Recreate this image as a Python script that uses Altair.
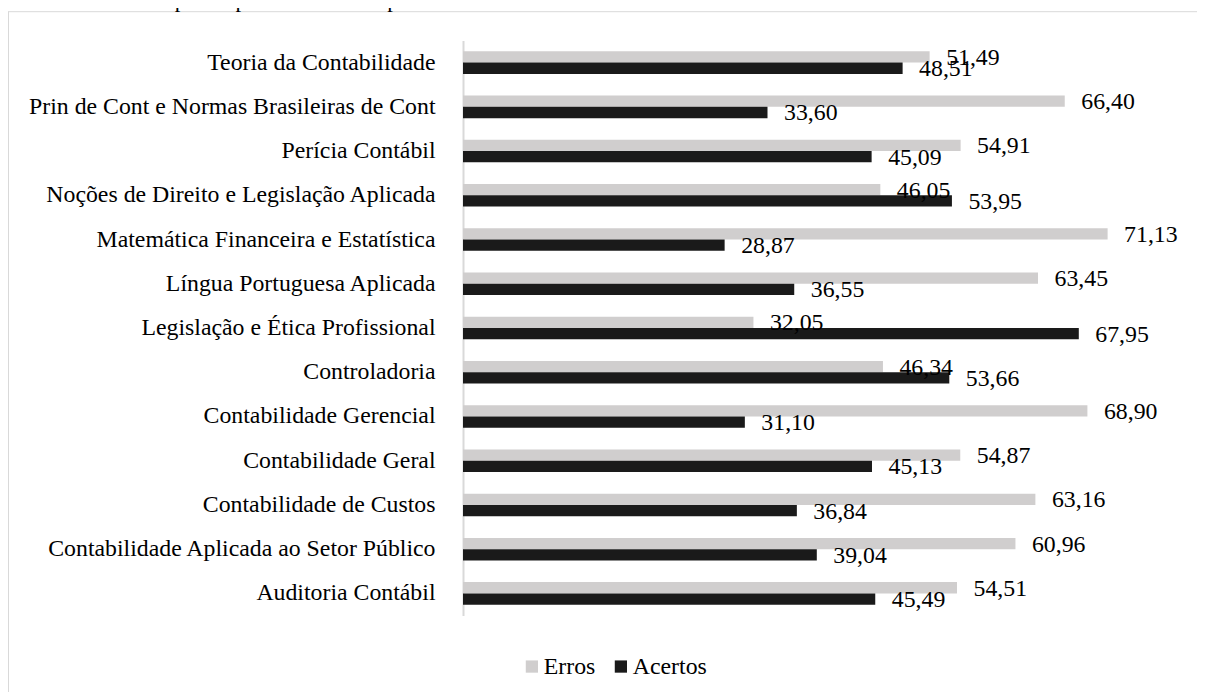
import altair as alt
import pandas as pd

categories = [
    "Teoria da Contabilidade",
    "Prin de Cont e Normas Brasileiras de Cont",
    "Perícia Contábil",
    "Noções de Direito e Legislação Aplicada",
    "Matemática Financeira e Estatística",
    "Língua Portuguesa Aplicada",
    "Legislação e Ética Profissional",
    "Controladoria",
    "Contabilidade Gerencial",
    "Contabilidade Geral",
    "Contabilidade de Custos",
    "Contabilidade Aplicada ao Setor Público",
    "Auditoria Contábil",
]
erros = [51.49, 66.40, 54.91, 46.05, 71.13, 63.45, 32.05, 46.34, 68.90, 54.87, 63.16, 60.96, 54.51]
acertos = [48.51, 33.60, 45.09, 53.95, 28.87, 36.55, 67.95, 53.66, 31.10, 45.13, 36.84, 39.04, 45.49]
series = ["Erros", "Acertos"]
colors = ["#d0cece", "#1a1a1a"]
title_text = "Gráfico 3 - Desempenho por conteúdo do período de 2018 a 2022."

rows = []
for c, e, a in zip(categories, erros, acertos):
    rows.append({"cat": c, "serie": "Erros", "value": e})
    rows.append({"cat": c, "serie": "Acertos", "value": a})
df = pd.DataFrame(rows)

FONT = "'Liberation Serif', 'Times New Roman', Times, 'DejaVu Serif', serif"
W, H = 725, 575
PL, PT, PR, PB = 455, 32.5, 9, 76.5

y_enc = alt.Y("cat:N", sort=categories,
              scale=alt.Scale(paddingInner=0.49, paddingOuter=0.245),
              axis=alt.Axis(title=None, ticks=False, labelPadding=28, labelLimit=0,
                            labelFont=FONT, labelFontSize=23.8, labelColor="#000000",
                            domainColor="#d9d9d9", domainWidth=2))
x_enc = alt.X("value:Q", scale=alt.Scale(domain=[0, 80], nice=False), axis=None)
yoff = alt.YOffset("serie:N", sort=series, scale=alt.Scale(domain=series, paddingInner=0, paddingOuter=0))

base = alt.Chart(df)

bars = base.mark_bar().encode(
    y=y_enc,
    x=x_enc,
    yOffset=yoff,
    color=alt.Color("serie:N", sort=series,
                    scale=alt.Scale(domain=series, range=colors),
                    legend=alt.Legend(title=None, orient="none", direction="horizontal",
                                      legendX=57, legendY=614, symbolType="square",
                                      symbolSize=150, symbolStrokeWidth=0,
                                      labelFont=FONT, labelFontSize=23.8, labelColor="#000000",
                                      labelOffset=0, columnPadding=13, padding=0)),
)

labels = base.transform_calculate(
    lbl="replace(format(datum.value, '.2f'), '.', ',')"
).mark_text(align="left", baseline="middle", dx=16.5, dy=1, font=FONT,
            fontSize=23.8, color="#000000").encode(
    y=alt.Y("cat:N", sort=categories),
    x="value:Q",
    yOffset=alt.YOffset("serie:N", sort=series),
    text="lbl:N",
)

one = pd.DataFrame({"k": [0]})
frame_top = alt.Chart(one).mark_rule(color="#d9d9d9", strokeWidth=1).encode(
    x=alt.value(-PL), x2=alt.value(W + PR), y=alt.value(-28.8))
frame_left = alt.Chart(one).mark_rule(color="#d9d9d9", strokeWidth=1).encode(
    x=alt.value(-PL + 0.5), y=alt.value(-28.8), y2=alt.value(H + PB))
title = alt.Chart(one).mark_text(align="left", baseline="alphabetic", font=FONT,
                                 fontSize=22.5, color="#000000").encode(
    x=alt.value(-PL), y=alt.value(-PT - 1.5), text=alt.value(title_text))

chart = alt.layer(frame_top, frame_left, title, bars, labels).properties(
    width=W, height=H,
    autosize=alt.AutoSizeParams(type="none"),
    padding={"left": PL, "top": PT, "right": PR, "bottom": PB},
).configure_view(stroke=None).resolve_scale(y="shared")

chart.save("out.html", embed_options={"renderer": "svg", "actions": False})
